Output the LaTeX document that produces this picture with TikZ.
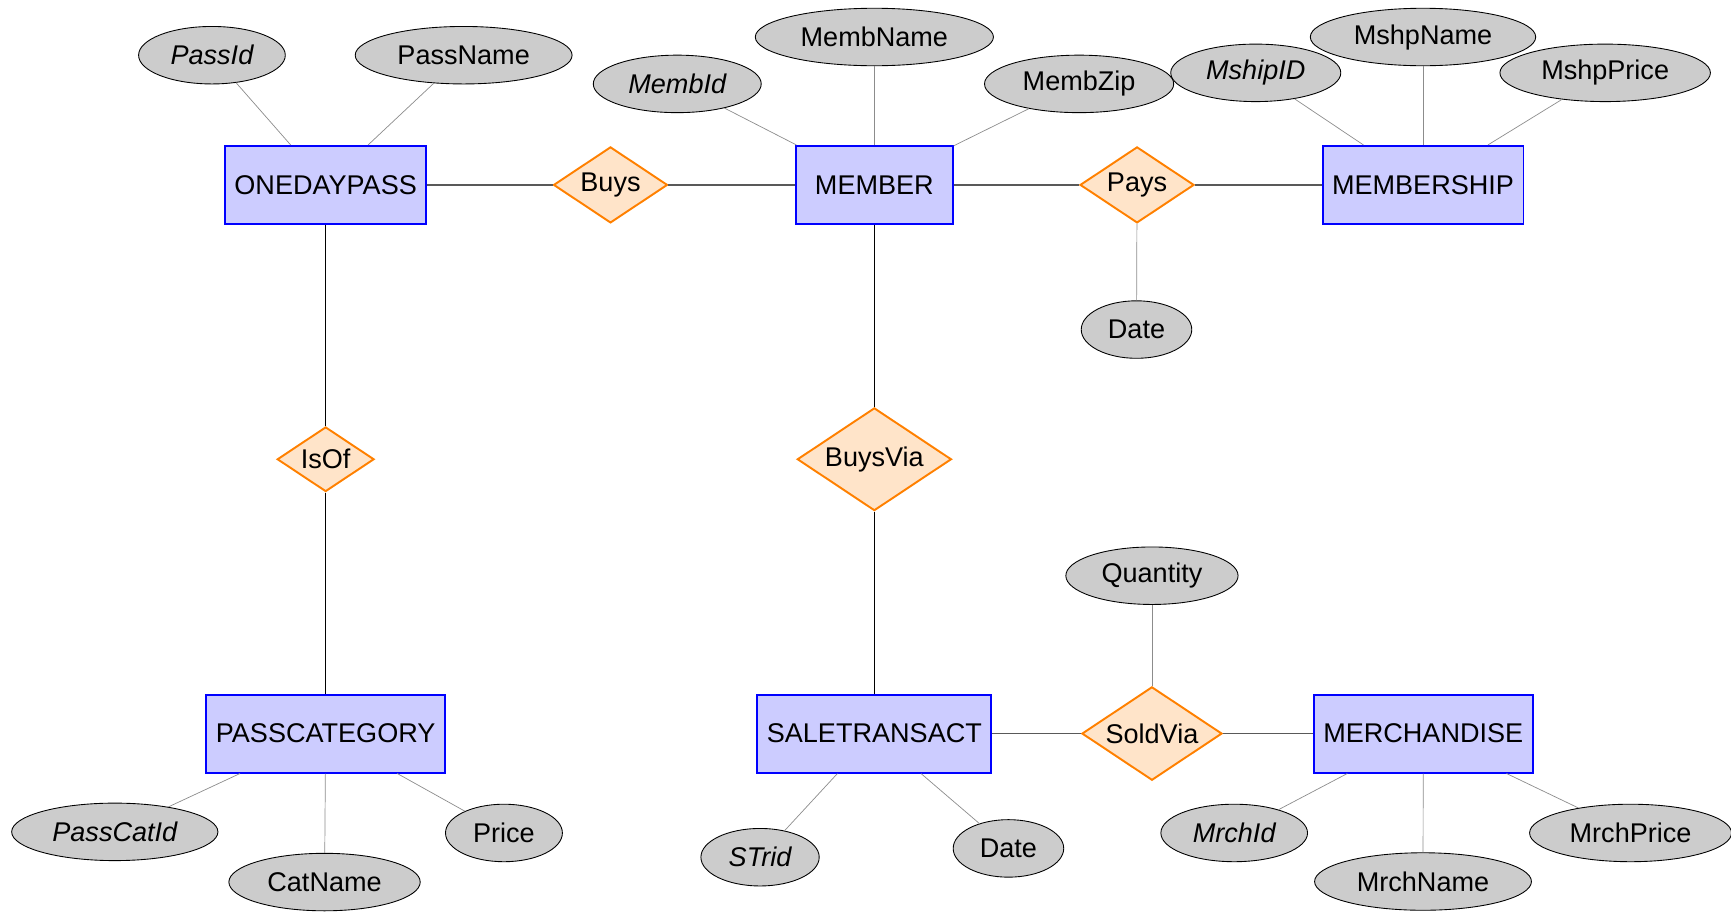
\documentclass[tikz,border=0pt]{standalone}
\usepackage{fontspec}
\setmainfont{Liberation Sans}
\usepackage{tikz}
\usetikzlibrary{shapes.geometric}
\definecolor{entityFill}{HTML}{CCCCFF}
\definecolor{relFill}{HTML}{FFE4C9}
\definecolor{relOrange}{HTML}{FF8000}
\definecolor{attrFill}{HTML}{CCCCCC}

\begin{document}
\begin{tikzpicture}[
    font=\fontsize{15.4}{18}\selectfont,
    entity/.style={draw=blue, fill=entityFill, line width=1.1pt, minimum width=3.14cm, minimum height=1.56cm, inner xsep=0.19cm},
    rel/.style={diamond, aspect=1.5, draw=relOrange, fill=relFill, line width=1.1pt, inner sep=0.07cm},
    attr/.style={ellipse, draw, fill=attrFill, line width=0.5pt, minimum height=1.15cm, inner xsep=0.21cm, inner ysep=0pt},
    key/.style={attr, font=\fontsize{15.4}{18}\selectfont\itshape},
    attrline/.style={draw=black!45, line width=0.4pt},
    relline/.style={draw=black!65, line width=0.8pt},
    vline/.style={draw=black, line width=0.5pt}]
    \useasboundingbox (0,0) rectangle (34.62,-18.24);

    % entities
    \node[entity] (onedaypass) at (6.513,-3.698) {ONEDAYPASS};
    \node[entity] (member) at (17.487,-3.698) {MEMBER};
    \node[entity] (membership) at (28.460,-3.698) {MEMBERSHIP};
    \node[entity] (passcategory) at (6.513,-14.671) {PASSCATEGORY};
    \node[entity] (saletransact) at (17.487,-14.671) {SALETRANSACT};
    \node[entity] (merchandise) at (28.465,-14.671) {MERCHANDISE};

    % relationships
    \node[rel] (buys) at (12.210,-3.698) {Buys};
    \node[rel] (pays) at (22.741,-3.698) {Pays};
    \node[rel] (isof) at (6.513,-9.185) {IsOf};
    \node[rel] (buysvia) at (17.487,-9.185) {BuysVia};
    \node[rel] (soldvia) at (23.039,-14.671) {SoldVia};

    % attributes
    \node[key] (passid) at (4.239,-1.104) {PassId};
    \node[attr] (passname) at (9.273,-1.104) {PassName};
    \node[key] (membid) at (13.545,-1.678) {MembId};
    \node[attr] (membname) at (17.487,-0.740) {MembName};
    \node[attr] (membzip) at (21.582,-1.678) {MembZip};
    \node[key] (mshipid) at (25.115,-1.457) {MshipID};
    \node[attr] (mshpname) at (28.460,-0.740) {MshpName};
    \node[attr] (mshpprice) at (32.103,-1.457) {MshpPrice};
    \node[attr] (paydate) at (22.730,-6.591) {Date};
    \node[key] (passcatid) at (2.296,-16.637) {PassCatId};
    \node[attr] (catname) at (6.491,-17.641) {CatName};
    \node[attr] (price) at (10.079,-16.659) {Price};
    \node[key] (strid) at (15.201,-17.144) {STrid};
    \node[attr] (saledate) at (20.169,-16.968) {Date};
    \node[attr] (quantity) at (23.039,-11.514) {Quantity};
    \node[key] (mrchid) at (24.684,-16.659) {MrchId};
    \node[attr] (mrchname) at (28.460,-17.630) {MrchName};
    \node[attr] (mrchprice) at (32.611,-16.659) {MrchPrice};

    % connectors
    \draw[relline] (onedaypass) -- (buys) -- (member) -- (pays) -- (membership);
    \draw[relline] (saletransact) -- (soldvia) -- (merchandise);
    \draw[vline] (onedaypass) -- (isof) -- (passcategory);
    \draw[vline] (member) -- (buysvia) -- (saletransact);

    \draw[attrline] (passid) -- (onedaypass);
    \draw[attrline] (passname) -- (onedaypass);
    \draw[attrline] (membid) -- (member);
    \draw[attrline] (membname) -- (member);
    \draw[attrline] (membzip) -- (member);
    \draw[attrline] (mshipid) -- (membership);
    \draw[attrline] (mshpname) -- (membership);
    \draw[attrline] (mshpprice) -- (membership);
    \draw[attrline] (paydate) -- (pays);
    \draw[attrline] (passcatid) -- (passcategory);
    \draw[attrline] (catname) -- (passcategory);
    \draw[attrline] (price) -- (passcategory);
    \draw[attrline] (strid) -- (saletransact);
    \draw[attrline] (saledate) -- (saletransact);
    \draw[attrline] (quantity) -- (soldvia);
    \draw[attrline] (mrchid) -- (merchandise);
    \draw[attrline] (mrchname) -- (merchandise);
    \draw[attrline] (mrchprice) -- (merchandise);
\end{tikzpicture}
\end{document}
